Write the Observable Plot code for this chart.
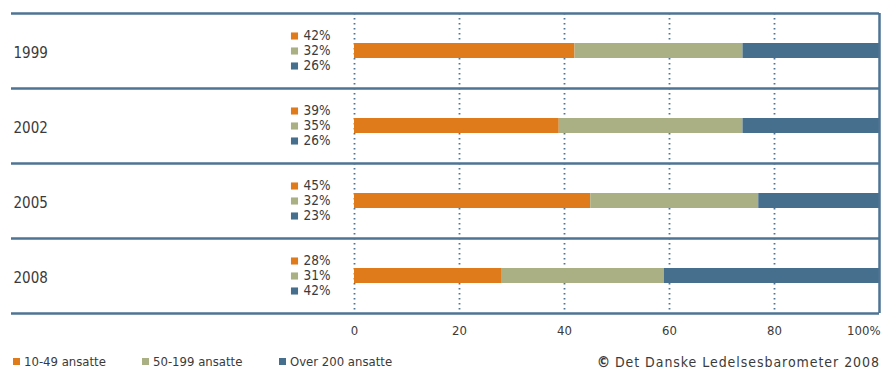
<!DOCTYPE html>
<html>
<head>
<meta charset="utf-8">
<script src="https://cdn.jsdelivr.net/npm/d3@7"></script>
<script src="https://cdn.jsdelivr.net/npm/@observablehq/plot@0.6"></script>
<style>
  body { margin: 0; background: #fff; font-family: "DejaVu Sans Condensed", "DejaVu Sans", sans-serif; color: #3a3a3a; }
  #chart { width: 883px; }
  .foot { position: relative; height: 27px; font-size: 13px; }
  .foot .item { position: absolute; top: 9px; display: flex; align-items: center; }
  .foot .sw { width: 7px; height: 7px; margin-right: 4px; }
  .foot .src { position: absolute; top: 8px; right: 3px; font-size: 14px; letter-spacing: 0.95px; }
  .foot .src b { font-size: 15px; letter-spacing: 0; }
</style>
</head>
<body>
<div id="chart"></div>
<script>
// Survey years and the share of companies in each size group (percent)
const years = ["1999", "2002", "2005", "2008"];
const groups = ["10-49 ansatte", "50-199 ansatte", "Over 200 ansatte"];
const small = [42, 39, 45, 28];
const medium = [32, 35, 32, 31];
const large = [26, 26, 23, 42];
const colors = ["#E07B1C", "#ABB084", "#466F8D"];
const ticks = [0, 20, 40, 60, 80, 100];
const source = "Det Danske Ledelsesbarometer 2008";

const series = [small, medium, large];
const rows = years.flatMap((year, i) =>
  groups.map((group, g) => ({year, group, value: series[g][i], slot: g}))
);

const lineColor = "#4E7393";
const textColor = "#3a3a3a";

// one key (swatch + percentage) per size group, stacked beside each bar
const keyMarks = groups.flatMap((g, slot) => {
  const data = rows.filter(d => d.slot === slot);
  const dy = (slot - 1) * 15;
  return [
    Plot.dot(data, {y: "year", frameAnchor: "left", dx: 283, dy, symbol: "square", r: 4, fill: "group", stroke: null}),
    Plot.text(data, {y: "year", text: d => `${d.value}%`, frameAnchor: "left", textAnchor: "start", dx: 292, dy, fontSize: 13.5, fill: textColor})
  ];
});

const chart = Plot.plot({
  width: 883,
  height: 345,
  marginTop: 13,
  marginBottom: 32,
  marginLeft: 11,
  marginRight: 4,
  style: {fontFamily: "'DejaVu Sans Condensed', 'DejaVu Sans', sans-serif", color: textColor, background: "#fff"},
  x: {domain: [0, 100], range: [354, 879], axis: null},
  y: {domain: years, padding: 0, axis: null},
  color: {domain: groups, range: colors},
  marks: [
    // dotted vertical gridlines
    Plot.ruleX(ticks.filter(t => t < 100), {x: d => d, stroke: lineColor, strokeWidth: 1.8, strokeDasharray: "1.6,3.4"}),
    // stacked shares
    Plot.barX(rows, Plot.stackX({
      x: "value", y: "year", fill: "group", order: groups,
      insetTop: 30, insetBottom: 30, clip: true
    })),
    // row separators and right edge
    Plot.ruleY(years, {y: d => d, dy: -37.5, stroke: lineColor, strokeWidth: 2.5}),
    Plot.ruleY(years.slice(-1), {y: d => d, dy: 37.5, stroke: lineColor, strokeWidth: 2.5}),
    Plot.ruleX([100], {x: d => d, stroke: lineColor, strokeWidth: 2.5}),
    // year labels
    Plot.text(years, {y: d => d, text: d => d, frameAnchor: "left", textAnchor: "start", dx: 2, dy: 2, fontSize: 15, fill: textColor}),
    ...keyMarks,
    // x axis labels
    Plot.axisX(ticks.filter(t => t < 100), {label: null, tickSize: 0, tickPadding: 12, fontSize: 13, tickFormat: d => `${d}`, fill: textColor}),
    Plot.axisX([100], {label: null, tickSize: 0, tickPadding: 12, fontSize: 13, tickFormat: d => `${d}%`, textAnchor: "end", dx: 1, fill: textColor})
  ]
});
document.getElementById("chart").appendChild(chart);

// legend and source line below the chart
const foot = document.createElement("div");
foot.className = "foot";
const legendX = [13, 142, 279];
groups.forEach((g, i) => {
  const item = document.createElement("div");
  item.className = "item";
  item.style.left = legendX[i] + "px";
  const sw = document.createElement("span");
  sw.className = "sw";
  sw.style.background = colors[i];
  const label = document.createElement("span");
  label.textContent = g;
  item.append(sw, label);
  foot.appendChild(item);
});
const src = document.createElement("div");
src.className = "src";
const mark = document.createElement("b");
mark.textContent = "© ";
src.append(mark, document.createTextNode(source));
foot.appendChild(src);
document.getElementById("chart").appendChild(foot);
</script>
</body>
</html>
